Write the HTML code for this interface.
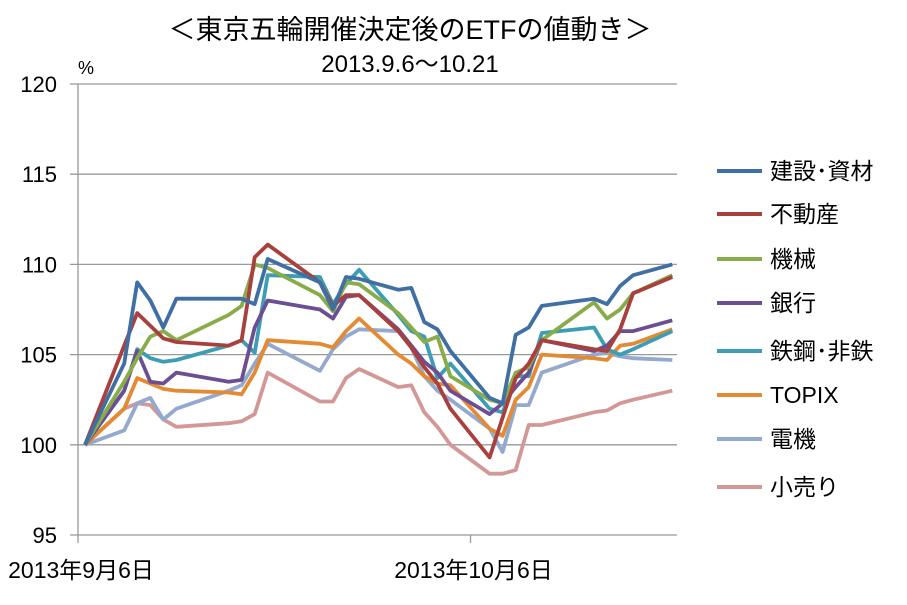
<!DOCTYPE html>
<html><head><meta charset="utf-8"><style>
body{margin:0;background:#fff;font-family:"Liberation Sans","Noto Sans CJK JP",sans-serif}
svg text{font-family:"Liberation Sans","Noto Sans CJK JP",sans-serif;fill:#000}
</style></head><body>
<svg id="chart" width="907" height="600" xmlns="http://www.w3.org/2000/svg">
<text x="410" y="39" font-size="27" text-anchor="middle">＜東京五輪開催決定後のETFの値動き＞</text>
<text x="410" y="72" font-size="24" text-anchor="middle">2013.9.6～10.21</text>
<text x="78" y="74" font-size="18">%</text>
<g id="grid"></g><g id="series"></g><g id="legend"></g>
</svg>
<script>
const days=[0,3,4,5,6,7,11,12,13,14,18,19,20,21,24,25,26,27,28,31,32,33,34,35,39,40,41,42,45];
const seriesNames=["建設･資材"," 不動産","機械","銀行","鉄鋼･非鉄","TOPIX","電機","小売り"];
const seriesColors=["#3f6fa3","#a8403d","#89ac4a","#6c4f92","#3c9db3","#e38a34","#93a9ce","#d39896"];
const kensetsu=[100,104.5,109,108,106.5,108.1,108.1,108.1,107.8,110.3,109.0,107.5,109.3,109.2,108.6,108.7,106.8,106.4,105.2,102.6,102.3,106.1,106.5,107.7,108.1,107.8,108.8,109.4,110];
const fudosan=[100,105.5,107.3,106.6,105.9,105.7,105.5,105.8,110.4,111.1,109,107.7,108.3,108.3,106.3,105.4,104.3,103.4,102,99.3,101.5,103.7,104.5,105.8,105.3,105.2,106.4,108.4,109.3];
const kikai=[100,103.5,104.8,106,106.3,105.8,107.2,107.7,110,109.8,108.3,107.4,109,108.9,107.3,106.5,105.7,106,103.8,102.5,102.3,104,104.3,105.8,107.9,107,107.5,108.4,109.4];
const ginko=[100,103,105.2,103.5,103.4,104,103.5,103.6,106.5,108,107.5,107,108.2,108.3,106.4,105.5,104.6,104,103,101.7,102.3,103.2,104,105.8,105.2,105.5,106.3,106.3,106.9];
const tekko=[100,103,105.3,104.8,104.6,104.7,105.5,105.8,105.1,109.4,109.3,107.8,108.9,109.7,107.2,106.3,106,103.7,104.5,102,101.8,103.8,103.8,106.2,106.5,105.3,105,105.3,106.3];
const topix=[100,102,103.7,103.4,103.1,103,102.9,102.8,104,105.8,105.6,105.4,106.3,107,105,104.5,103.8,103.4,103.3,100.9,100.5,102.5,103.2,105,104.8,104.7,105.5,105.6,106.4];
const denki=[100,100.8,102.3,102.6,101.4,102,103,103.3,104.5,105.6,104.1,105.3,106,106.4,106.3,105.4,103.8,103,102.5,100.9,99.6,102.2,102.2,104,105,105.1,104.9,104.8,104.7];
const kouri=[100,102,102.3,102.2,101.4,101,101.2,101.3,101.7,104,102.4,102.4,103.7,104.2,103.2,103.3,101.8,101,100,98.4,98.4,98.6,101.1,101.1,101.8,101.9,102.3,102.5,103];
const yTicks=[95,100,105,110,115,120];
const xTickLabels=["2013年9月6日","2013年10月6日"];
const xTickDays=[0,30];
const allSeries=[kensetsu,fudosan,kikai,ginko,tekko,topix,denki,kouri];
const NS="http://www.w3.org/2000/svg";
const xS=d=>85+d*13.05;
const yS=v=>535-(v-95)*18.04;
const grid=document.getElementById('grid');
function mk(t,a,p){const e=document.createElementNS(NS,t);for(const k in a)e.setAttribute(k,a[k]);p.appendChild(e);return e;}
yTicks.forEach(v=>{
  const l=mk('line',{x1:70,x2:677,y1:yS(v),y2:yS(v),stroke:'#999','stroke-width':1.3},grid);
  
  
  const t=mk('text',{x:57,y:yS(v)+8,'font-size':22,'text-anchor':'end'},grid);
  t.textContent=v;
  
  
});
const ax=mk('line',{x1:78,x2:78,y1:84,y2:535,stroke:'#999','stroke-width':1.3},grid);


xTickDays.forEach((d,i)=>{
  const x=d===0?78:xS(d)-6;
  const tk=mk('line',{x1:x,x2:x,y1:535,y2:543,stroke:'#999','stroke-width':1.3},grid);
  
  
  const t=mk('text',{x:x+3,y:578,'font-size':23,'text-anchor':'middle'},grid);
  t.textContent=xTickLabels[i];
  
  
});
const sg=document.getElementById('series');
for(let s=allSeries.length-1;s>=0;s--){
  const pts=allSeries[s].map((v,i)=>xS(days[i]).toFixed(1)+','+yS(v).toFixed(1)).join(' ');
  const p=mk('polyline',{points:pts,fill:'none',stroke:seriesColors[s],'stroke-width':3.8,'stroke-linejoin':'round'},sg);
  
  
}
const lg=document.getElementById('legend');
const ly=[171,214,259,303,351,395,439,487];
seriesNames.forEach((n,i)=>{
  const g=mk('g',{},lg);
  
  
  mk('line',{x1:717,x2:762,y1:ly[i],y2:ly[i],stroke:seriesColors[i],'stroke-width':4},g);
  const t=mk('text',{x:770,y:ly[i]+8,'font-size':23},g);
  t.textContent=n;
});
</script>
</body></html>
